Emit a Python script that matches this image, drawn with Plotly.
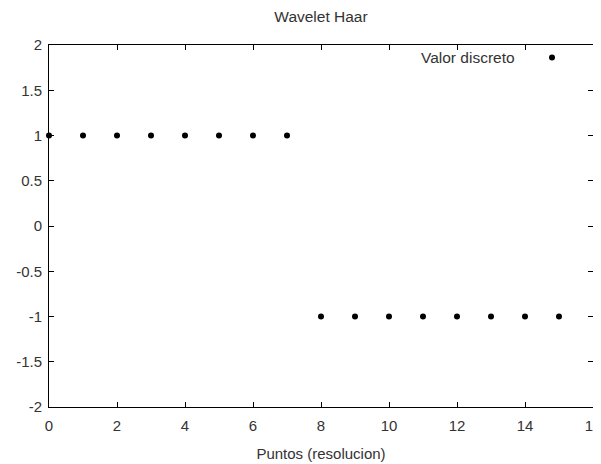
import plotly.graph_objects as go

x_vals = list(range(16))
y_vals = [1, 1, 1, 1, 1, 1, 1, 1, -1, -1, -1, -1, -1, -1, -1, -1]
x_ticks = [0, 2, 4, 6, 8, 10, 12, 14, 16]
y_ticks = [-2, -1.5, -1, -0.5, 0, 0.5, 1, 1.5, 2]
series_name = "Valor discreto"

FAM = "Liberation Sans, Arial, sans-serif"
COL = "#333333"
tick_font = dict(family=FAM, size=15, color=COL)
text_font = dict(family=FAM, size=15.5, color=COL)

# page body has an 8px default margin, so the figure is 8px smaller
W, H = 593, 456
L, R, T, B = 41, 8, 37, 57
PW, PH = W - L - R, H - T - B

fig = go.Figure()
fig.add_trace(go.Scatter(
    x=x_vals, y=y_vals, mode="markers", name=" ",
    marker=dict(color="black", size=6, symbol="circle"),
    cliponaxis=False,
))

axis_common = dict(
    showgrid=False, zeroline=False, showline=True, linecolor="black", linewidth=1,
    mirror="allticks", ticks="inside", ticklen=5, tickcolor="black",
    tickfont=tick_font, automargin=False, ticklabeloverflow="allow",
)
fig.update_layout(
    width=W, height=H,
    margin=dict(l=L, r=R, t=T, b=B),
    paper_bgcolor="white", plot_bgcolor="white",
    font=text_font,
    title=dict(text="Wavelet Haar", x=(L + PW / 2) / W, xanchor="center", y=1 - 9 / H, yanchor="middle",
               font=text_font, automargin=False),
    showlegend=True,
    legend=dict(x=(544 - L - 20) / PW, xanchor="left", y=(PH - 13) / PH, yanchor="middle",
                bgcolor="rgba(0,0,0,0)", font=text_font),
    annotations=[dict(text=series_name, xref="paper", yref="paper",
                      x=(509 - L) / PW, xanchor="right", y=(PH - 13) / PH, yanchor="middle",
                      showarrow=False, font=text_font)],
)
fig.update_xaxes(range=[0, 16], tickvals=x_ticks, ticktext=[str(v) for v in x_ticks],
                 ticklabelstandoff=5,
                 title=dict(text="Puntos (resolucion)", font=tick_font, standoff=15), **axis_common)
fig.update_yaxes(range=[-2, 2], tickvals=y_ticks, ticktext=[("%g" % v) for v in y_ticks],
                 ticklabelstandoff=3, **axis_common)

fig.write_html("out.html")
